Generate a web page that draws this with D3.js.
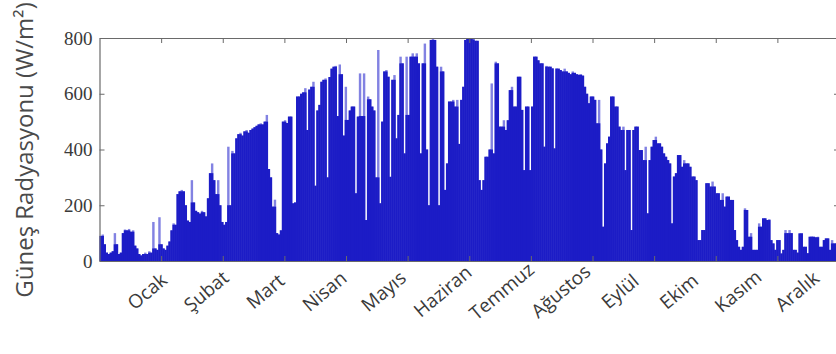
<!DOCTYPE html>
<html>
<head>
<meta charset="utf-8">
<script src="https://cdn.jsdelivr.net/npm/d3@7"></script>
<style>
  html, body { margin: 0; padding: 0; background: #fff; }
  svg { display: block; }
</style>
</head>
<body>
<svg id="chart" width="836" height="354"></svg>
<script>
const months = ['Ocak', 'Şubat', 'Mart', 'Nisan', 'Mayıs', 'Haziran', 'Temmuz', 'Ağustos', 'Eylül', 'Ekim', 'Kasım', 'Aralık']
const yTicks = [0, 200, 400, 600, 800]

// Daily solar radiation (W/m2), one array per month
const ocak = [90, 95, 60, 30, 25, 30, 35, 100, 60, 25, 30, 100, 113, 110, 115, 105, 110, 55, 45, 25, 20, 25, 30, 25, 35, 30, 140, 45, 40, 157, 60]
const subat = [45, 40, 55, 70, 110, 135, 130, 240, 250, 255, 250, 200, 145, 140, 290, 210, 180, 175, 170, 180, 175, 160, 225, 315, 350, 290, 240, 290]
const mart = [200, 140, 130, 140, 410, 200, 395, 386, 440, 455, 460, 450, 465, 470, 460, 470, 475, 480, 485, 490, 494, 490, 500, 524, 330, 300, 195, 220, 100, 95, 110]
const nisan = [500, 505, 495, 518, 518, 207, 210, 590, 590, 600, 605, 620, 470, 615, 625, 643, 270, 540, 560, 643, 650, 655, 300, 660, 690, 697, 700, 520, 705, 670]
const mayis = [450, 625, 506, 540, 554, 554, 243, 518, 673, 520, 673, 147, 590, 580, 554, 540, 300, 757, 207, 500, 680, 685, 661, 302, 650, 667, 440, 524, 733, 709, 386]
const haziran = [733, 524, 733, 745, 733, 745, 709, 386, 709, 780, 400, 200, 793, 800, 793, 697, 200, 697, 680, 255, 350, 572, 572, 578, 554, 578, 420, 578, 625, 793]
const temmuz = [800, 800, 800, 795, 790, 790, 290, 255, 290, 374, 374, 400, 637, 386, 715, 709, 482, 482, 505, 470, 505, 613, 625, 554, 554, 661, 661, 542, 326, 554, 554]
const agustos = [326, 554, 733, 733, 720, 709, 709, 410, 700, 697, 697, 691, 404, 691, 690, 685, 680, 690, 680, 675, 670, 680, 675, 670, 668, 670, 665, 625, 600, 566, 590]
const eylul = [590, 578, 494, 578, 400, 123, 350, 422, 446, 590, 590, 554, 554, 482, 470, 482, 326, 470, 470, 111, 470, 482, 482, 398, 398, 362, 410, 171, 362, 410]
const ekim = [434, 446, 422, 422, 410, 386, 374, 362, 350, 135, 303, 315, 380, 380, 338, 362, 350, 350, 338, 303, 303, 290, 75, 75, 111, 111, 279, 279, 267, 285, 267]
const kasim = [243, 243, 219, 243, 195, 231, 231, 219, 219, 111, 75, 51, 40, 51, 189, 183, 87, 100, 40, 40, 40, 135, 123, 153, 153, 147, 150, 75, 63, 40]
const aralik = [75, 75, 27, 40, 111, 100, 111, 100, 40, 40, 30, 99, 100, 51, 51, 28, 87, 88, 87, 85, 87, 51, 51, 75, 81, 81, 40, 75, 63, 63, 60]

const daily = [].concat(ocak, subat, mart, nisan, mayis, haziran, temmuz, agustos, eylul, ekim, kasim, aralik)

// Geometry
const plot = { left: 99.5, right: 839, top: 38, bottom: 261 }
const colors = { bar: '#1c1cc6', spike: '#8282e2', axis: '#6a6a6a', text: '#3a3a3a' }

// Scales
const x = d3.scaleLinear().domain([0, daily.length]).range([plot.left, plot.right])
const xMonth = d3.scaleLinear().domain([0, months.length]).range([plot.left, plot.right])
const xLabel = d3.scalePoint().domain(months).range([147, 797])
const y = d3.scaleLinear().domain([0, 800]).range([plot.bottom, plot.top])

const svg = d3.select('#chart')

// Bars: whole bar in light blue, the part backed by a neighbour in dark blue
const backed = (d, i) => Math.min(d, Math.max(i > 0 ? daily[i - 1] : 0, i < daily.length - 1 ? daily[i + 1] : 0))

svg.append('g')
  .selectAll('rect')
  .data(daily)
  .join('rect')
    .attr('x', (_, i) => x(i))
    .attr('width', (_, i) => x(i + 1) - x(i) + 0.4)
    .attr('y', d => y(d))
    .attr('height', d => y(0) - y(d))
    .attr('fill', colors.spike)

svg.append('g')
  .selectAll('rect')
  .data(daily)
  .join('rect')
    .attr('x', (_, i) => x(i))
    .attr('width', (_, i) => x(i + 1) - x(i) + 0.4)
    .attr('y', (d, i) => y(backed(d, i)))
    .attr('height', (d, i) => y(0) - y(backed(d, i)))
    .attr('fill', colors.bar)

// Axes box, ticks pointing inward
const styleAxis = g => {
  g.select('.domain').attr('stroke', colors.axis).attr('stroke-width', 1.2)
  g.selectAll('.tick line').attr('stroke', colors.axis)
}

svg.append('g')
  .attr('transform', 'translate(' + plot.left + ',0)')
  .call(d3.axisLeft(y).tickValues(yTicks).tickSizeInner(-5).tickSizeOuter(0).tickPadding(7))
  .call(styleAxis)
  .call(g => g.selectAll('text')
    .attr('font-family', '"Liberation Serif", "Times New Roman", serif')
    .attr('font-size', 19)
    .attr('fill', colors.text))

svg.append('g')
  .attr('transform', 'translate(' + plot.right + ',0)')
  .call(d3.axisRight(y).tickValues(yTicks.slice(1, -1)).tickSizeInner(-5).tickSizeOuter(0).tickFormat(''))
  .call(styleAxis)

svg.append('g')
  .attr('transform', 'translate(0,' + plot.top + ')')
  .call(d3.axisTop(xMonth).tickValues(d3.range(1, months.length)).tickSizeInner(-5).tickSizeOuter(0).tickFormat(''))
  .call(styleAxis)

svg.append('g')
  .attr('transform', 'translate(0,' + plot.bottom + ')')
  .call(d3.axisBottom(xMonth).tickValues(d3.range(1, months.length)).tickSizeInner(-5).tickSizeOuter(0).tickFormat(''))
  .call(styleAxis)

// Month labels
const labelY = 291
svg.append('g')
  .selectAll('text')
  .data(months)
  .join('text')
    .attr('x', d => xLabel(d))
    .attr('y', labelY)
    .attr('transform', d => 'rotate(-40,' + xLabel(d) + ',' + labelY + ')')
    .attr('text-anchor', 'middle')
    .attr('dominant-baseline', 'central')
    .attr('font-family', '"Open Sans", sans-serif')
    .attr('font-size', 19)
    .attr('fill', colors.text)
    .text(d => d)

// Y title
svg.append('text')
  .attr('transform', 'translate(23,150) rotate(-90)')
  .attr('text-anchor', 'middle')
  .attr('dominant-baseline', 'central')
  .attr('font-family', '"Open Sans", sans-serif')
  .attr('font-size', 24)
  .attr('fill', '#4a4a4a')
  .text('Güneş Radyasyonu (W/m²)')
</script>
</body>
</html>
